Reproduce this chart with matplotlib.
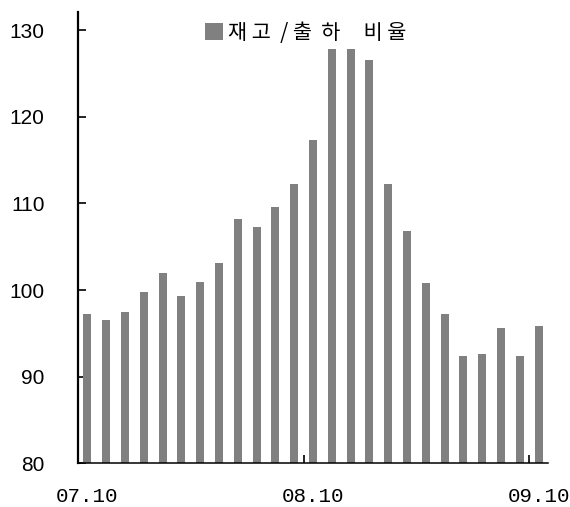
import matplotlib
matplotlib.use("Agg")
import matplotlib.pyplot as plt
from matplotlib.ticker import FixedLocator

plt.rcParams['font.family'] = ['Noto Sans CJK KR', 'DejaVu Sans']

# ---- data ----
months = ["07.10", "07.11", "07.12", "08.01", "08.02", "08.03", "08.04", "08.05",
          "08.06", "08.07", "08.08", "08.09", "08.10", "08.11", "08.12", "09.01",
          "09.02", "09.03", "09.04", "09.05", "09.06", "09.07", "09.08", "09.09",
          "09.10"]
ratio = [97.2, 96.5, 97.5, 99.8, 102.0, 99.3, 100.9, 103.1,
         108.2, 107.3, 109.6, 112.2, 117.3, 127.8, 127.8, 126.6,
         112.2, 106.8, 100.8, 97.2, 92.4, 92.6, 95.6, 92.4, 95.8]
series_label = "재 고  / 출  하     비 율"
shown_labels = ["07.10", "08.10", "09.10"]
y_ticks = [80, 90, 100, 110, 120, 130]

W, H = 570, 507
fig = plt.figure(figsize=(W / 100, H / 100), dpi=100)
ax = fig.add_axes([78 / W, 1 - 463.3 / H, (548 - 78) / W, (463.3 - 12) / H])

x = list(range(len(months)))
ax.bar(x, ratio, width=0.42, color="#808080", label=series_label, zorder=2)

ax.set_xlim(-0.5, len(months) - 0.5)
ax.set_ylim(80, 132.1)

for s in ("top", "right"):
    ax.spines[s].set_visible(False)
ax.spines["left"].set_linewidth(1.6)
ax.spines["bottom"].set_linewidth(1.1)
ax.spines["left"].set_zorder(3)
ax.spines["bottom"].set_zorder(3)

# y ticks
ax.set_yticks(y_ticks)
ax.set_yticklabels([str(v) for v in y_ticks], family="Liberation Sans", fontsize=15)
ax.tick_params(axis="y", direction="in", length=6, width=1.2, pad=24)

# x ticks: labels at category centers, marks at category boundaries
lab_pos = [months.index(m) for m in shown_labels]
ax.set_xticks(lab_pos)
ax.set_xticklabels(shown_labels, family="Liberation Mono", fontsize=15)
ax.tick_params(axis="x", which="major", length=0, pad=17)
ax.xaxis.set_minor_locator(FixedLocator([p - 0.5 for p in lab_pos if p > 0]))
ax.tick_params(axis="x", which="minor", direction="in", length=6, width=1.2)

leg = ax.legend(loc="center left", bbox_to_anchor=((205 - 78) / 470, (463.3 - 32.8) / 451.3),
                frameon=False, prop={"size": 15, "weight": "light"},
                handlelength=0.87, handleheight=0.87,
                handletextpad=0.25, borderpad=0, borderaxespad=0)

fig.savefig("out.png", dpi=100)
